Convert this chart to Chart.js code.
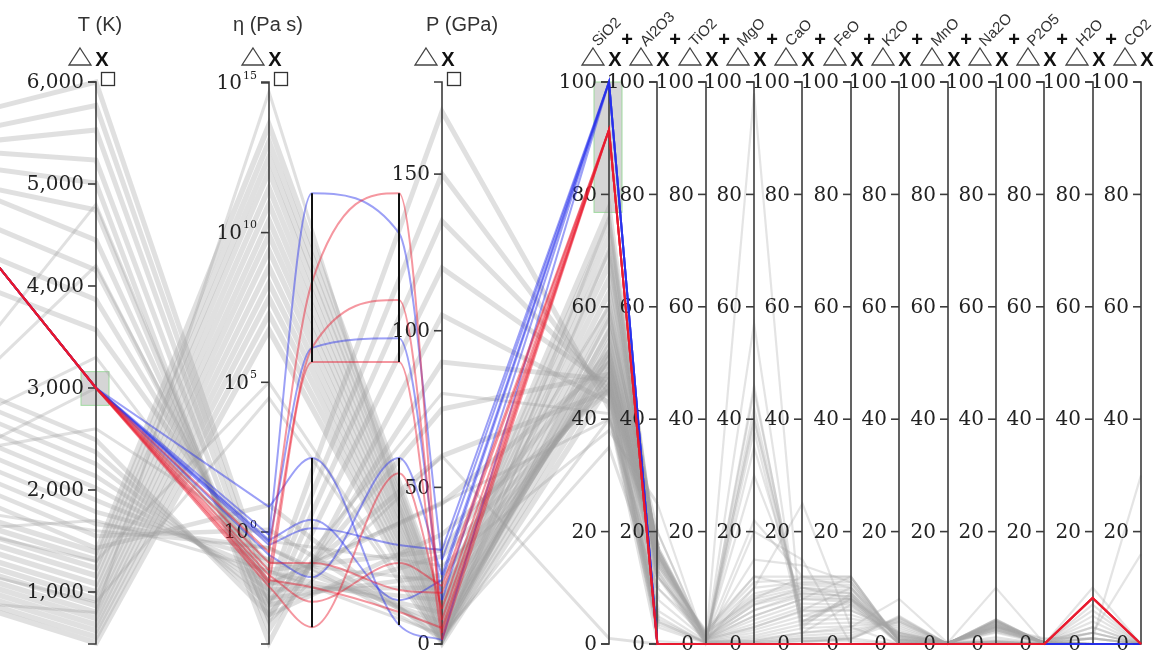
<!DOCTYPE html>
<html>
<head>
<meta charset="utf-8">
<script src="https://cdn.jsdelivr.net/npm/chart.js@4.4.1/dist/chart.umd.min.js"></script>
<style>
  html, body { margin: 0; background: #fff; }
  #wrap { width: 1159px; height: 655px; position: relative; }
</style>
</head>
<body>
<div id="wrap"><canvas id="chart"></canvas></div>
<script>
// ---- axis names and ticks ----
const oxides = ['SiO2', 'Al2O3', 'TiO2', 'MgO', 'CaO', 'FeO', 'K2O', 'MnO', 'Na2O', 'P2O5', 'H2O', 'CO2'];
const tempTicks = [1000, 2000, 3000, 4000, 5000, 6000];
const viscTicks = [1e0, 1e5, 1e10, 1e15];
const pressTicks = [0, 50, 100, 150];
const oxideTicks = [0, 20, 40, 60, 80, 100];

// axis domains
const tempRange = [490, 6000];
const viscRange = [-3.74, 15.03];   // log10(Pa s)
const pressRange = [0, 179.4];

// brushed ranges
const brushTemp = [2830, 3160];
const brushSiO2 = [76.8, 100];

// selected runs: [hidden, T, eta, step1, step2, P, SiO2 ... CO2]
const selBlueUpper = [
  [83.7, 3000, 0.8,   80.2, 73.1, 26.8, 100, 0, 0, 0, 0, 0, 0, 0, 0, 0, 0, 0],
  [83.7, 3000, 0.46,  52.7, 54.4, 14.0, 100, 0, 0, 0, 0, 0, 0, 0, 0, 0, 0, 0]
];
const selRedUpper = [
  [83.7, 3000, 0.21,  64.4, 80.2, 3.5,  91.5, 0, 0, 0, 0, 0, 0, 0, 0, 0, 8.2, 0],
  [83.7, 3000, 0.053, 52.7, 61.2, 7.7,  91.5, 0, 0, 0, 0, 0, 0, 0, 0, 0, 8.2, 0],
  [83.7, 3000, 0.020, 50.2, 50.2, 1.3,  91.5, 0, 0, 0, 0, 0, 0, 0, 0, 0, 8.2, 0]
];
const selBlueLower = [
  [83.7, 3000, 6.9,   33.1, 3.4,  1.3,  100, 0, 0, 0, 0, 0, 0, 0, 0, 0, 0, 0],
  [83.7, 3000, 0.54,  22.1, 7.8,  20.4, 100, 0, 0, 0, 0, 0, 0, 0, 0, 0, 0, 0],
  [83.7, 3000, 0.37,  20.6, 17.6, 30.0, 100, 0, 0, 0, 0, 0, 0, 0, 0, 0, 0, 0],
  [83.7, 3000, 0.17,  11.9, 33.1, 22.0, 100, 0, 0, 0, 0, 0, 0, 0, 0, 0, 0, 0]
];
const selRedLower = [
  [83.7, 3000, 0.092, 14.4, 9.6,  16.3, 91.5, 0, 0, 0, 0, 0, 0, 0, 0, 0, 8.2, 0],
  [83.7, 3000, 0.036, 7.5,  14.4, 18.5, 91.5, 0, 0, 0, 0, 0, 0, 0, 0, 0, 8.2, 0],
  [83.7, 3000, 0.015, 3.0,  30.4, 11.2, 91.5, 0, 0, 0, 0, 0, 0, 0, 0, 0, 8.2, 0],
  [83.7, 3000, 0.025, 10.1, 5.7,  5.1,  91.5, 0, 0, 0, 0, 0, 0, 0, 0, 0, 8.2, 0]
];

// other runs: [hidden, T, eta, P, SiO2 ... CO2]
const runsCool = [
  [9.8,  500,  5.6e6,  0.3,  46,   17.5, 1.2, 7,   10,  9,   0.8, 0.2,  2.8, 0.3,  0, 0],
  [10.6, 560,  1.9e7,  1.3,  48.5, 17,   1.1, 6,   9,   8.5, 1,   0.2,  3,   0.3,  2, 0],
  [11.7, 620,  6.6e7,  2.2,  51,   16.8, 1,   5,   8,   8,   1.3, 0.2,  3.2, 0.3,  0, 0],
  [12.8, 680,  2.1e8,  3.5,  53,   16.5, 0.9, 4.3, 7.2, 7,   1.6, 0.15, 3.4, 0.2,  4, 0],
  [13.8, 740,  7.1e8,  4.5,  55.5, 16.2, 0.9, 3.6, 6.5, 6.5, 1.9, 0.15, 3.6, 0.2,  1, 0],
  [14.9, 800,  2.5e9,  5.4,  58,   16,   0.8, 3,   5.8, 6,   2.2, 0.1,  3.8, 0.2,  0, 0],
  [16.2, 865,  8.3e9,  6.7,  60,   15.8, 0.7, 2.5, 5,   5.2, 2.6, 0.1,  4,   0.2,  6, 0],
  [17.4, 930,  2.6e10, 7.7,  62.5, 15.5, 0.6, 2,   4.2, 4.5, 3,   0.1,  4.2, 0.15, 3, 0],
  [18.6, 1000, 9.1e10, 8.6,  65,   15.2, 0.5, 1.5, 3.5, 3.8, 3.4, 0.1,  4.3, 0.1,  0, 0],
  [20.1, 1080, 3.1e11, 9.9,  67.5, 14.8, 0.4, 1.1, 2.8, 3.2, 3.8, 0.05, 4.4, 0.1,  5, 0],
  [21.5, 1160, 1.1e12, 10.9, 70,   14.3, 0.3, 0.8, 2,   2.5, 4.1, 0.05, 4.3, 0.1,  2, 0],
  [22.9, 1235, 3.4e12, 11.8, 72.5, 13.8, 0.3, 0.5, 1.5, 2,   4.4, 0,    4.1, 0,    0, 0],
  [24.3, 1315, 1.1e13, 13.1, 75,   13.2, 0.2, 0.3, 1,   1.5, 4.6, 0,    3.9, 0,    7, 0],
  [25.8, 1390, 4.0e13, 14.0, 77.5, 12.5, 0.1, 0.1, 0.6, 1,   4.8, 0,    3.7, 0,    1, 0]
];
const runsHot = [
  [92.2, 6000, 1.1e-2, 170, 42, 4,   0.2, 45, 3.5, 8,   0.1, 0.1, 0.3, 0, 0, 0],
  [89.5, 5770, 5.4e-3, 150, 44, 3.5, 0.2, 42, 4,   8.5, 0,   0.1, 0.4, 0, 0, 0],
  [88.3, 5530, 2.5e-3, 135, 45, 4.5, 0.3, 40, 5,   7.5, 0.1, 0.1, 0.5, 0, 0, 0],
  [88.3, 5235, 1.1e-3, 120, 46, 5,   0.2, 38, 3,   9,   0,   0.1, 0.3, 0, 0, 0],
  [86.2, 5010, 2.0e-4, 105, 43, 3,   0.1, 46, 2,   7,   0,   0.1, 0.2, 0, 0, 0],
  [83.6, 4745, 5.4e-4, 90,  47, 6,   0.5, 35, 6,   10,  0.2, 0.1, 0.8, 0, 0, 0],
  [84.3, 4450, 1.7e-3, 75,  48, 8,   0.8, 30, 8,   12,  0.3, 0.1, 1.2, 0, 0, 0],
  [79.3, 4155, 5.4e-3, 60,  45, 4,   0.3, 40, 4,   8,   0,   0.1, 0.4, 0, 0, 0],
  [74.0, 3865, 1.7e-2, 45,  50, 10,  1,   22, 12,  12,  0.5, 0.2, 2,   0, 0, 0],
  [67.7, 3570, 5.4e-2, 30,  52, 12,  1.5, 15, 14,  11,  0.8, 0.2, 2.5, 0, 0, 0]
];
const runsMid = [
  [49.1, 2490, 1.7e-3, 35, 45, 14,   2.5, 12,  12,   12,   0.3, 0.2, 2.2, 0.2,  0, 0],
  [46.9, 2370, 3.6e-3, 28, 46, 14.5, 2.2, 11,  11.5, 11.5, 0.4, 0.2, 2.4, 0.2,  0, 0],
  [44.8, 2255, 6.2e-3, 22, 47, 15,   2,   10,  11,   11,   0.5, 0.2, 2.5, 0.2,  1, 0],
  [42.7, 2135, 1.2e-2, 18, 48, 15.5, 1.8, 9,   10.8, 10.5, 0.6, 0.2, 2.6, 0.25, 0, 0],
  [40.5, 2020, 2.1e-2, 14, 49, 16,   1.6, 8.5, 10.5, 10,   0.7, 0.2, 2.8, 0.25, 2, 0],
  [38.4, 1900, 4.6e-2, 10, 50, 16,   1.4, 8,   10,   9.5,  0.8, 0.2, 3,   0.3,  0, 0],
  [36.2, 1785, 0.12,   7,  51, 16.5, 1.2, 7.5, 9.5,  9,    1,   0.2, 3.1, 0.3,  0, 0],
  [34.1, 1665, 0.29,   5,  52, 17,   1.1, 7,   9,    8.5,  1.2, 0.2, 3.2, 0.3,  3, 0],
  [32.0, 1550, 1.2,    3,  54, 17,   1,   6,   8.5,  8,    1.4, 0.2, 3.4, 0.3,  0, 0],
  [29.8, 1430, 8,      1,  56, 17.5, 0.9, 5,   8,    7.5,  1.6, 0.2, 3.5, 0.3,  1, 0]
];
const runsOther = [
  [40, 4800, 1e-3, 60,  1,  0,   0,   98,  0.5, 0.5, 0,   0,   0,   0,   0,  0],
  [38, 4200, 4e-3, 80,  41, 0.5, 0,   57,  0.3, 1,   0,   0,   0,   0,   0,  0],
  [36, 3300, 0.02, 45,  40, 20,  0.5, 10,  25,  3,   0,   0,   0.5, 0,   0,  0],
  [20, 1700, 0.05, 3,   35, 10,  2,   12,  10,  8,   2,   0.2, 3,   1,   1,  30],
  [25, 1600, 0.3,  2,   40, 12,  2,   8,   12,  10,  1.5, 0.2, 3,   0.8, 2,  16],
  [22, 1300, 1e5,  1,   58, 20,  0.5, 0.5, 2,   3,   8,   0.2, 10,  0.1, 0,  0],
  [15, 900,  3e4,  0.5, 70, 13,  0.2, 0.3, 1,   1,   4,   0,   3.5, 0,   10, 0],
  [33, 2600, 0.5,  25,  38, 25,  0,   20,  15,  0,   0,   0,   0,   0,   0,  0],
  [8,  800,  5e14, 0.2, 76, 12,  0,   0,   0.5, 0.8, 5,   0,   4,   0,   0,  0],
  [30, 3000, 0.1,  20,  60, 16,  0.8, 3,   6,   6,   2,   0.1, 4,   0.2, 0,  0]
];

// ---- layout (horizontal positions on the x scale) ----
const POS = { hidden: -76, T: 96, eta: 269, step1: 312, step2: 399, P: 442 };
const oxideX = oxides.map((_, i) => 609 + i * (1141 - 609) / (oxides.length - 1));

// normalisation of each axis to 0..1
const toTemp = v => (v - tempRange[0]) / (tempRange[1] - tempRange[0]);
const toVisc = v => (Math.log10(v) - viscRange[0]) / (viscRange[1] - viscRange[0]);
const toPress = v => (v - pressRange[0]) / (pressRange[1] - pressRange[0]);
const toPct = v => v / 100;

function oxidePoints(vals) {
  return vals.map((v, i) => ({ x: oxideX[i], y: toPct(v) }));
}

const datasets = [];
const GREY = 'rgba(160,160,160,0.32)';
const GREY_LIGHT = 'rgba(165,165,165,0.3)';
const pastAlumina = c => c.p0.parsed.x >= oxideX[1] - 1;
[[runsCool, 5.5], [runsHot, 5], [runsMid, 4.5], [runsOther, 3]].forEach(([group, w]) => {
  group.forEach(r => {
    datasets.push({
      kind: 'grey',
      data: [
        { x: POS.hidden, y: toPct(r[0]) },
        { x: POS.T, y: toTemp(r[1]) },
        { x: POS.eta, y: toVisc(r[2]) },
        { x: POS.P, y: toPress(r[3]) },
        ...oxidePoints(r.slice(4))
      ],
      borderColor: GREY, borderWidth: w, tension: 0, order: 3,
      segment: {
        borderColor: c => pastAlumina(c) ? GREY_LIGHT : undefined,
        borderWidth: c => pastAlumina(c) ? 2.2 : undefined
      }
    });
  });
});

function addSelected(rows, color, order) {
  rows.forEach(r => {
    const common = { kind: 'sel', borderColor: color, borderWidth: 2, order: order };
    datasets.push(Object.assign({}, common, {
      data: [
        { x: POS.hidden, y: toPct(r[0]) },
        { x: POS.T, y: toTemp(r[1]) },
        { x: POS.eta, y: toVisc(r[2]) }
      ], tension: 0
    }));
    datasets.push(Object.assign({}, common, {
      data: [
        { x: POS.eta, y: toVisc(r[2]) },
        { x: POS.step1, y: toPct(r[3]) },
        { x: POS.step2, y: toPct(r[4]) },
        { x: POS.P, y: toPress(r[5]) }
      ], cubicInterpolationMode: 'monotone'
    }));
    datasets.push(Object.assign({}, common, {
      data: [{ x: POS.P, y: toPress(r[5]) }, ...oxidePoints(r.slice(6))], tension: 0
    }));
  });
}
const BLUE = 'rgba(35,45,235,0.45)';
const RED = 'rgba(232,25,45,0.45)';
addSelected(selBlueUpper, BLUE, 2);
addSelected(selBlueLower, BLUE, 2);
addSelected(selRedUpper, RED, 1);
addSelected(selRedLower, RED, 1);

// ---- axes description ----
const axes = [
  { x: POS.T, ticks: tempTicks, map: toTemp, fmt: v => v.toLocaleString('en-US'), title: 'T (K)', titleX: 100 },
  { x: POS.eta, ticks: viscTicks, map: toVisc, pow: true, title: 'η (Pa s)', titleX: 268 },
  { x: POS.P, ticks: pressTicks, map: toPress, title: 'P (GPa)', titleX: 462 }
].concat(oxides.map((name, i) => ({
  x: oxideX[i], ticks: oxideTicks, map: toPct, label: name, plus: i < oxides.length - 1
})));

const TICK_FONT = '20px "DejaVu Serif", serif';
const SUP_FONT = '11px "DejaVu Serif", serif';
const SANS = '"Liberation Sans", Arial, sans-serif';

function drawAxes(chart) {
  const { ctx, scales: { x: xs, y: ys } } = chart;
  const top = ys.getPixelForValue(1), bot = ys.getPixelForValue(0);
  ctx.save();
  ctx.strokeStyle = '#3c3c3c';
  ctx.lineWidth = 1.6;
  ctx.fillStyle = '#222';
  axes.forEach(ax => {
    const x = Math.round(xs.getPixelForValue(ax.x));
    ctx.beginPath();
    ctx.moveTo(x - 8, top); ctx.lineTo(x, top); ctx.lineTo(x, bot); ctx.lineTo(x - 8, bot);
    ctx.stroke();
    ax.ticks.forEach(t => {
      const y = ys.getPixelForValue(ax.map(t));
      ctx.beginPath(); ctx.moveTo(x - 8, y); ctx.lineTo(x, y); ctx.stroke();
      ctx.textAlign = 'right';
      ctx.textBaseline = 'middle';
      if (ax.pow) {
        const e = String(Math.round(Math.log10(t)));
        ctx.font = SUP_FONT;
        const ew = ctx.measureText(e).width;
        ctx.fillText(e, x - 12, y - 7);
        ctx.font = TICK_FONT;
        ctx.fillText('10', x - 13 - ew, y + 1);
      } else {
        ctx.font = TICK_FONT;
        ctx.fillText(ax.fmt ? ax.fmt(t) : String(t), x - 12, y + 1);
      }
    });
  });
  ctx.restore();
}

function drawBrushes(chart) {
  const { ctx, scales: { x: xs, y: ys } } = chart;
  const boxes = [
    { x: POS.T, lo: toTemp(brushTemp[0]), hi: toTemp(brushTemp[1]) },
    { x: oxideX[0], lo: toPct(brushSiO2[0]), hi: toPct(brushSiO2[1]) }
  ];
  ctx.save();
  boxes.forEach(b => {
    const x = xs.getPixelForValue(b.x);
    const y1 = ys.getPixelForValue(b.hi), y2 = ys.getPixelForValue(b.lo);
    ctx.fillStyle = 'rgba(185,185,185,0.6)';
    ctx.fillRect(x - 15, y1, 28, y2 - y1);
    ctx.strokeStyle = 'rgba(150,215,150,0.9)';
    ctx.lineWidth = 1;
    ctx.strokeRect(x - 15, y1, 28, y2 - y1);
  });
  ctx.restore();
}

function drawStepAxes(chart) {
  const { ctx, scales: { x: xs, y: ys } } = chart;
  const groups = [selBlueUpper.concat(selRedUpper), selBlueLower.concat(selRedLower)];
  ctx.save();
  ctx.strokeStyle = '#111';
  ctx.lineWidth = 2;
  [[POS.step1, 3], [POS.step2, 4]].forEach(([pos, idx]) => {
    const x = Math.round(xs.getPixelForValue(pos));
    groups.forEach(g => {
      const vals = g.map(r => r[idx]);
      ctx.beginPath();
      ctx.moveTo(x, ys.getPixelForValue(toPct(Math.max(...vals))));
      ctx.lineTo(x, ys.getPixelForValue(toPct(Math.min(...vals))));
      ctx.stroke();
    });
  });
  ctx.restore();
}

function drawHeaders(chart) {
  const { ctx, scales: { x: xs } } = chart;
  ctx.save();
  axes.forEach(ax => {
    const x = Math.round(xs.getPixelForValue(ax.x));
    ctx.strokeStyle = '#444';
    ctx.lineWidth = 1.3;
    ctx.beginPath();
    ctx.moveTo(x - 16, 48); ctx.lineTo(x - 5, 65); ctx.lineTo(x - 27, 65); ctx.closePath();
    ctx.stroke();
    ctx.fillStyle = '#111';
    ctx.font = 'bold 20px ' + SANS;
    ctx.textAlign = 'center';
    ctx.textBaseline = 'alphabetic';
    ctx.fillText('X', x + 6, 66);
    if (ax.title) {
      ctx.strokeStyle = '#333';
      ctx.strokeRect(x + 5.5, 72.5, 13, 13);
      ctx.fillStyle = '#333';
      ctx.font = '20px ' + SANS;
      ctx.fillText(ax.title, ax.titleX, 31);
    }
    if (ax.plus) {
      ctx.fillStyle = '#111';
      ctx.font = 'bold 20px ' + SANS;
      ctx.textBaseline = 'middle';
      ctx.fillText('+', x + 18, 40);
    }
    if (ax.label) {
      ctx.save();
      ctx.translate(x - 11, 47);
      ctx.rotate(-Math.PI / 4);
      ctx.fillStyle = '#333';
      ctx.font = '15px ' + SANS;
      ctx.textAlign = 'left';
      ctx.textBaseline = 'alphabetic';
      ctx.fillText(ax.label, 0, 0);
      ctx.restore();
    }
  });
  ctx.restore();
}

const parallelAxes = {
  id: 'parallelAxes',
  beforeDatasetsDraw(chart) {
    chart.$axesDone = false;
    drawBrushes(chart);
  },
  beforeDatasetDraw(chart, args) {
    if (!chart.$axesDone && chart.data.datasets[args.index].kind === 'sel') {
      drawAxes(chart);
      chart.$axesDone = true;
    }
  },
  afterDatasetsDraw(chart) {
    if (!chart.$axesDone) { drawAxes(chart); chart.$axesDone = true; }
    drawStepAxes(chart);
    drawHeaders(chart);
  }
};

new Chart(document.getElementById('chart'), {
  type: 'line',
  data: { datasets: datasets },
  options: {
    responsive: true,
    maintainAspectRatio: false,
    animation: false,
    events: [],
    layout: { padding: { top: 82, bottom: 11, left: 0, right: 0 } },
    datasets: { line: { pointRadius: 0, fill: false, clip: false } },
    scales: {
      x: { type: 'linear', min: 0, max: 1159, display: false },
      y: { type: 'linear', min: 0, max: 1, display: false }
    },
    plugins: { legend: { display: false }, tooltip: { enabled: false } }
  },
  plugins: [parallelAxes]
});
</script>
</body>
</html>
